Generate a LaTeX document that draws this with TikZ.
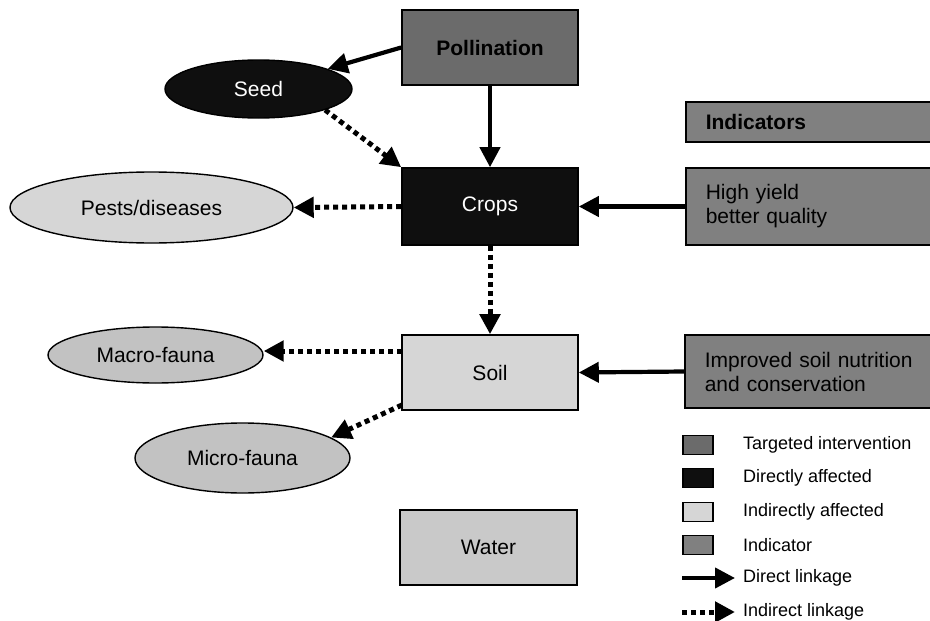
\documentclass[tikz,border=0pt]{standalone}
\usepackage{fontspec}
\setmainfont{Liberation Sans}
\usetikzlibrary{arrows.meta,shapes.geometric}

\definecolor{targetgray}{gray}{0.42}
\definecolor{indgray}{gray}{0.50}
\definecolor{darkfill}{gray}{0.06}
\definecolor{palefill}{gray}{0.84}
\definecolor{faunafill}{gray}{0.76}
\definecolor{waterfill}{gray}{0.79}

\tikzset{
  every node/.style={font=\fontsize{21}{25}\selectfont},
  boxnode/.style={draw=black, line width=1.6pt, minimum width=176pt, minimum height=75pt, inner sep=0pt},
  ovalnode/.style={ellipse, draw=black, line width=1.4pt, inner sep=0pt},
  indbox/.style={draw=black, line width=1.6pt, fill=indgray, anchor=west, inner xsep=20pt, inner ysep=0pt, text width=230pt, align=left},
  swatch/.style={draw=black, line width=1.2pt, minimum width=30pt, minimum height=19pt, inner sep=0pt},
  legtext/.style={anchor=west, font=\fontsize{18}{22}\selectfont, inner sep=0pt},
  direct/.style={line width=4.2pt, -{Triangle[length=20pt,width=20pt]}},
  indirect/.style={line width=5pt, dash pattern=on 5pt off 4pt, -{Triangle[length=20pt,width=20pt]}},
}

\begin{document}
\begin{tikzpicture}[x=1pt, y=-1pt]
\useasboundingbox (0,0) rectangle (930,621);
\clip (0,0) rectangle (930,621);

% central column
\node[boxnode, fill=targetgray] (poll) at (490,47.5) {\textbf{Pollination}};
\node[boxnode, fill=darkfill, minimum height=77pt, text=white] (crops) at (490,206.5) {Crops};
\node[boxnode, fill=palefill] (soil) at (490,372.5) {Soil};
\node[boxnode, fill=waterfill, minimum width=177pt] (water) at (488.5,547.5) {Water};

% ellipses on the left
\node[ovalnode, fill=darkfill, text=white, minimum width=187pt, minimum height=58pt] (seed) at (258.5,89) {Seed};
\node[ovalnode, fill=palefill, minimum width=283pt, minimum height=71pt] (pests) at (151.5,207.5) {Pests/diseases};
\node[ovalnode, fill=faunafill, minimum width=215pt, minimum height=56pt] (macro) at (155.5,355) {Macro-fauna};
\node[ovalnode, fill=faunafill, minimum width=215pt, minimum height=70pt] (micro) at (242.5,458) {Micro-fauna};

% indicator boxes on the right
\node[indbox, minimum height=40pt] (ind) at (685,122) {\textbf{Indicators}};
\node[indbox, minimum height=77pt] (yield) at (685,206.5) {High yield\\[-1pt]better quality};
\node[indbox, minimum height=73pt] (impr) at (684,371.5) {Improved soil nutrition\\[-1pt]and conservation};

% linkages
\draw[direct] (poll.west) -- (seed);
\draw[direct] (poll.south) -- (crops.north);
\draw[indirect] (seed.south east) -- (crops.north west);
\draw[indirect] (crops.west) -- (pests.east);
\draw[indirect] (crops.south) -- (soil.north);
\draw[direct] (yield.west) -- (crops.east);
\draw[direct] (impr.west) -- (soil.east);
\coordinate (soilmac) at (402,351);
\draw[indirect] (soilmac) -- (macro.east |- soilmac);
\coordinate (soilmic) at (402,405);
\draw[indirect] (soilmic) -- (micro.13);

% legend
\node[swatch, fill=targetgray] (lg1) at (698,445) {};
\node[swatch, fill=darkfill] (lg2) at (698,478) {};
\node[swatch, fill=palefill] (lg3) at (698,512) {};
\node[swatch, fill=indgray] (lg4) at (698,545) {};
\node[legtext] (lt1) at (743,445) {Targeted intervention};
\node[legtext] (lt2) at (743,478) {Directly affected};
\node[legtext] (lt3) at (743,512) {Indirectly affected};
\node[legtext] (lt4) at (743,545) {Indicator};
\coordinate (la1s) at (682,578);
\coordinate (la1e) at (735,578);
\draw[direct] (la1s) -- (la1e);
\node[legtext] (lt5) at (743,578) {Direct linkage};
\coordinate (la2s) at (682,612);
\coordinate (la2e) at (735,612);
\draw[indirect] (la2s) -- (la2e);
\node[legtext] (lt6) at (743,612) {Indirect linkage};
\end{tikzpicture}
\end{document}
